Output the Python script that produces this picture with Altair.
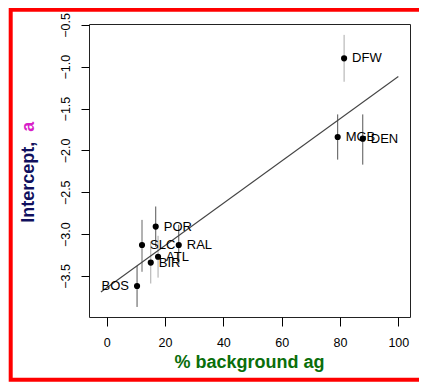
import altair as alt
import pandas as pd

# ---- data ----
cities = ["DFW", "MGB", "DEN", "POR", "SLC", "RAL", "ATL", "BIR", "BOS"]
pct_ag = [81.4, 79.2, 87.8, 16.8, 12.1, 24.7, 17.6, 15.1, 10.4]
intercept = [-0.90, -1.84, -1.86, -2.91, -3.13, -3.13, -3.27, -3.34, -3.62]
err_hi = [-0.62, -1.57, -1.57, -2.67, -2.83, -2.89, -3.02, -3.09, -3.38]
err_lo = [-1.18, -2.11, -2.17, -3.15, -3.45, -3.36, -3.52, -3.59, -3.87]
bar_col = ["#aaaaaa", "#555555", "#555555", "#555555", "#666666",
           "#555555", "#aaaaaa", "#aaaaaa", "#555555"]
label_side = ["right", "right", "right", "right", "right",
              "right", "right", "right", "left"]

fit_x = [-2, 100]
fit_y = [-3.692, -1.117]

x_ticks = [0, 20, 40, 60, 80, 100]
y_ticks = [-0.5, -1.0, -1.5, -2.0, -2.5, -3.0, -3.5]

df = pd.DataFrame({
    "city": cities, "pct": pct_ag, "a": intercept,
    "hi": err_hi, "lo": err_lo, "col": bar_col, "side": label_side,
})
fit = pd.DataFrame({"pct": fit_x, "a": fit_y})

FONT = "Liberation Sans"
W, H = 321, 293

xs = alt.Scale(domain=[-6.08, 104.0], nice=False, zero=False)
ys = alt.Scale(domain=[-3.99, -0.49], nice=False, zero=False)

x_axis = alt.Axis(values=x_ticks, title=None, grid=False, domain=False,
                  tickSize=9, tickColor="black", labelFontSize=12.5,
                  labelFont=FONT, labelColor="black", labelBaseline="middle",
                  labelPadding=16, labelFlush=False, labelOverlap=False)
y_axis = alt.Axis(values=y_ticks, title=None, grid=False, domain=False,
                  tickSize=8, tickColor="black", labelFontSize=12.5,
                  labelFont=FONT, labelColor="black", labelAngle=270,
                  labelAlign="center", labelBaseline="middle",
                  labelPadding=16, labelFlush=False, labelOverlap=False,
                  format=".1f")

base = alt.Chart(df)

bars = base.mark_rule(strokeWidth=1).encode(
    x=alt.X("pct:Q", scale=xs, axis=x_axis),
    y=alt.Y("lo:Q", scale=ys, axis=y_axis),
    y2="hi:Q",
    color=alt.Color("col:N", scale=None),
)

line = alt.Chart(fit).mark_line(color="#444444", strokeWidth=1.1).encode(
    x=alt.X("pct:Q", scale=xs), y=alt.Y("a:Q", scale=ys)
)

pts = base.mark_circle(size=38, color="black", opacity=1).encode(
    x=alt.X("pct:Q", scale=xs), y=alt.Y("a:Q", scale=ys)
)

lab_r = base.transform_filter(alt.datum.side == "right").mark_text(
    align="left", baseline="middle", dx=8, font=FONT, fontSize=13,
    color="black").encode(
    x=alt.X("pct:Q", scale=xs), y=alt.Y("a:Q", scale=ys), text="city:N")
lab_l = base.transform_filter(alt.datum.side == "left").mark_text(
    align="right", baseline="middle", dx=-8, font=FONT, fontSize=13,
    color="black").encode(
    x=alt.X("pct:Q", scale=xs), y=alt.Y("a:Q", scale=ys), text="city:N")

one = pd.DataFrame({"k": [0]})
xtitle = alt.Chart(one).mark_text(
    text="% background ag", font=FONT, fontSize=18, fontWeight="bold",
    color="#0a6e0a", align="center", baseline="middle").encode(
    x=alt.value(160.4), y=alt.value(338.7))
ytitle1 = alt.Chart(one).mark_text(
    text="Intercept,", font=FONT, fontSize=18, fontWeight="bold",
    color="#10105e", align="left", baseline="middle", angle=270).encode(
    x=alt.value(-60.3), y=alt.value(198.7))
ytitle2 = alt.Chart(one).mark_text(
    text="a", font=FONT, fontSize=18, fontWeight="bold",
    color="#d81fc8", align="left", baseline="middle", angle=270).encode(
    x=alt.value(-60.3), y=alt.value(107.7))

border = alt.Chart(one).mark_rect(
    fill="transparent", stroke="#ff0000", strokeWidth=4).encode(
    x=alt.value(-78.3), x2=alt.value(345), y=alt.value(-14.3),
    y2=alt.value(355.7))

chart = alt.layer(bars, line, pts, lab_r, lab_l, xtitle, ytitle1, ytitle2,
                  border).properties(
    width=W, height=H,
    autosize=alt.AutoSizeParams(type="none"),
    padding={"left": 81, "top": 16, "right": 9, "bottom": 65},
    background="white",
).configure_view(stroke="#222222", strokeWidth=1)

chart.save("out.html", embed_options={"renderer": "svg", "actions": False})
